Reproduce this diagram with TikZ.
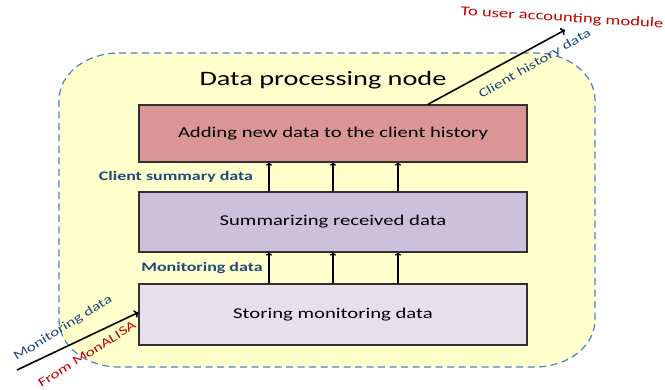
\documentclass[tikz,border=0pt]{standalone}
\usepackage{fontspec}
\setmainfont[FakeStretch=1.38]{Carlito}
\usetikzlibrary{arrows.meta}
\definecolor{outerfill}{HTML}{FFFFCC}
\definecolor{dashblue}{HTML}{4F81BD}
\definecolor{redbox}{HTML}{D99694}
\definecolor{purplebox}{HTML}{CCC1DA}
\definecolor{lilacbox}{HTML}{E6E0EC}
\definecolor{lblblue}{HTML}{1F497D}
\definecolor{lblred}{HTML}{C00000}
\definecolor{boxline}{HTML}{303030}
\tikzset{
  procbox/.style={draw=boxline, line width=1.4pt, minimum width=388pt, inner sep=0pt, font=\fontsize{15}{18}\selectfont},
  flow/.style={line width=1.3pt, -{To[length=3pt,width=6pt]}},
  biglink/.style={line width=1.6pt, -{To[length=4pt,width=8pt]}},
  bluelbl/.style={text=lblblue, font=\fontsize{13}{16}\selectfont\bfseries},
  slopelbl/.style={font=\fontsize{12.5}{14}\selectfont, inner sep=0pt}
}
\begin{document}
\begin{tikzpicture}[x=1pt,y=-1pt]
\useasboundingbox (0,0) rectangle (665,390);
\draw[dashblue, dash pattern=on 7pt off 4.5pt, line width=1.2pt, fill=outerfill]
  (119,53) -- (535,53) arc[start angle=270,end angle=360,x radius=60,y radius=47]
  -- (595,320) arc[start angle=0,end angle=90,x radius=60,y radius=47]
  -- (119,367) arc[start angle=90,end angle=180,x radius=60,y radius=47]
  -- (59,100) arc[start angle=180,end angle=270,x radius=60,y radius=47] -- cycle;
\node[font=\fontsize{20.5}{24}\selectfont] (title) at (323,80) {Data processing node};
\node[procbox, fill=redbox, minimum height=57pt] (hist) at (333,133.5) {Adding new data to the client history};
\node[procbox, fill=purplebox, minimum height=60pt] (summ) at (333,222) {Summarizing received data};
\node[procbox, fill=lilacbox, minimum height=61pt] (store) at (333,314.5) {Storing monitoring data};
\foreach \dx in {-64,0,65} {
  \draw[flow] ([xshift=\dx pt]summ.north) -- ([xshift=\dx pt]hist.south);
  \draw[flow] ([xshift=\dx pt]store.north) -- ([xshift=\dx pt]summ.south);
}
\node[bluelbl] (csd) at (176,177) {Client summary data};
\node[bluelbl] (mond) at (202,268) {Monitoring data};
\coordinate (src) at (17,370);
\draw[biglink] (src) -- ([yshift=2pt]store.west);
\node[slopelbl, text=lblblue, rotate=32] (inlbl) at (63,328) {Monitoring data};
\node[slopelbl, text=lblred, rotate=32] (fromlbl) at (87,354) {From MonALISA};
\coordinate (dst) at (565,30);
\draw[biglink] ([xshift=95pt]hist.north) -- (dst);
\node[slopelbl, text=lblblue, rotate=30] (outlbl) at (535,64) {Client history data};
\node[font=\fontsize{13.5}{16}\selectfont, text=lblred, rotate=-3.5, inner sep=0pt] (tolbl) at (562,18) {To user accounting module};
\end{tikzpicture}
\end{document}
